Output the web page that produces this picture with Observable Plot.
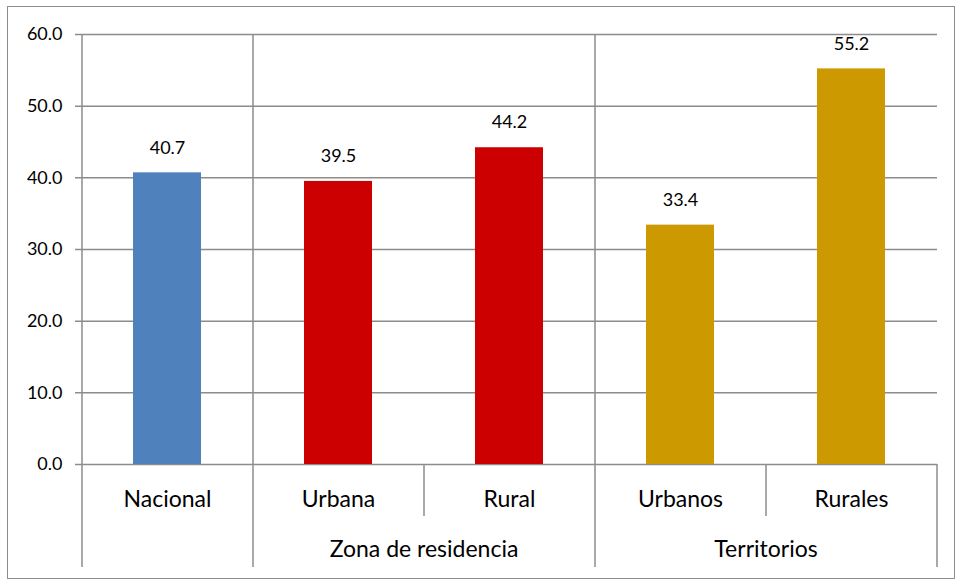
<!DOCTYPE html>
<html>
<head>
<meta charset="utf-8">
<script src="https://cdn.jsdelivr.net/npm/d3@7"></script>
<script src="https://cdn.jsdelivr.net/npm/@observablehq/plot@0.6"></script>
<style>
  html, body { margin: 0; padding: 0; background: #fff; }
  #wrap { position: relative; width: 956px; height: 581px; }
  #border { position: absolute; left: 7px; top: 6px; width: 948px; height: 573px; border: 1.5px solid #8c8c8c; box-sizing: border-box; pointer-events: none; }
  svg { display: block; font-family: Lato, "Open Sans", sans-serif; }
</style>
</head>
<body>
<div id="wrap"><div id="border"></div></div>
<script>
const categories = ["Nacional", "Urbana", "Rural", "Urbanos", "Rurales"];
const values = [40.7, 39.5, 44.2, 33.4, 55.2];
const groups = ["Nacional", "Zona de residencia", "Zona de residencia", "Territorios", "Territorios"];
const groupLabels = ["Zona de residencia", "Territorios"];
const groupColors = {"Nacional": "#4F81BD", "Zona de residencia": "#CC0000", "Territorios": "#CC9900"};
const yTicks = [0, 10, 20, 30, 40, 50, 60];

const data = categories.map((c, i) => ({category: c, value: values[i], group: groups[i]}));
const longSeps = categories.filter((c, i) => i === 0 || groups[i] !== groups[i - 1]);
const shortSeps = categories.filter((c, i) => i > 0 && groups[i] === groups[i - 1]);
const groupStarts = groupLabels.map(g => categories[groups.indexOf(g)]);

const W = 956, H = 581;
const mL = 82, mR = 19, mT = 34, mB = 117;
const step = (W - mL - mR) / (categories.length);
const frameH = H - mT - mB;
const grey = "#8c8c8c";

const chart = Plot.plot({
  width: W,
  height: H,
  marginLeft: mL,
  marginRight: mR,
  marginTop: mT,
  marginBottom: mB,
  style: {fontFamily: "Lato, 'Open Sans', sans-serif", fontSize: "18px", color: "#000", background: "#fff"},
  x: {domain: categories, paddingInner: 0.6, paddingOuter: 0.3, axis: null},
  y: {domain: [0, 60], ticks: yTicks, axis: null, label: null},
  color: {domain: Object.keys(groupColors), range: Object.values(groupColors)},
  marks: [
    Plot.ruleY(yTicks, {stroke: grey, strokeWidth: 1.5, insetLeft: -7}),
    Plot.axisY({ticks: yTicks, tickFormat: d3.format(".1f"), tickSize: 0, tickPadding: 20, fontSize: 18, fill: "#000", label: null}),
    Plot.barY(data, {x: "category", y: "value", fill: "group"}),
    Plot.text(data, {x: "category", y: "value", text: d => d3.format(".1f")(d.value), dy: -25, fontSize: 18, fill: "#000"}),
    Plot.ruleX(longSeps, {x: d => d, dx: -step / 2, stroke: grey, strokeWidth: 1.5, insetBottom: -103}),
    Plot.ruleX([categories[categories.length - 1]], {x: d => d, dx: step / 2, stroke: grey, strokeWidth: 1.5, insetTop: frameH, insetBottom: -103}),
    Plot.ruleX(shortSeps, {x: d => d, dx: -step / 2, stroke: grey, strokeWidth: 1.5, insetTop: frameH, insetBottom: -52}),
    Plot.text(categories, {x: d => d, frameAnchor: "bottom", dy: 42, fontSize: 23, fill: "#000"}),
    Plot.text(groupLabels, {x: (d, i) => groupStarts[i], dx: step / 2, frameAnchor: "bottom", dy: 92, fontSize: 23, fill: "#000"})
  ]
});
document.getElementById("wrap").prepend(chart);
</script>
</body>
</html>
